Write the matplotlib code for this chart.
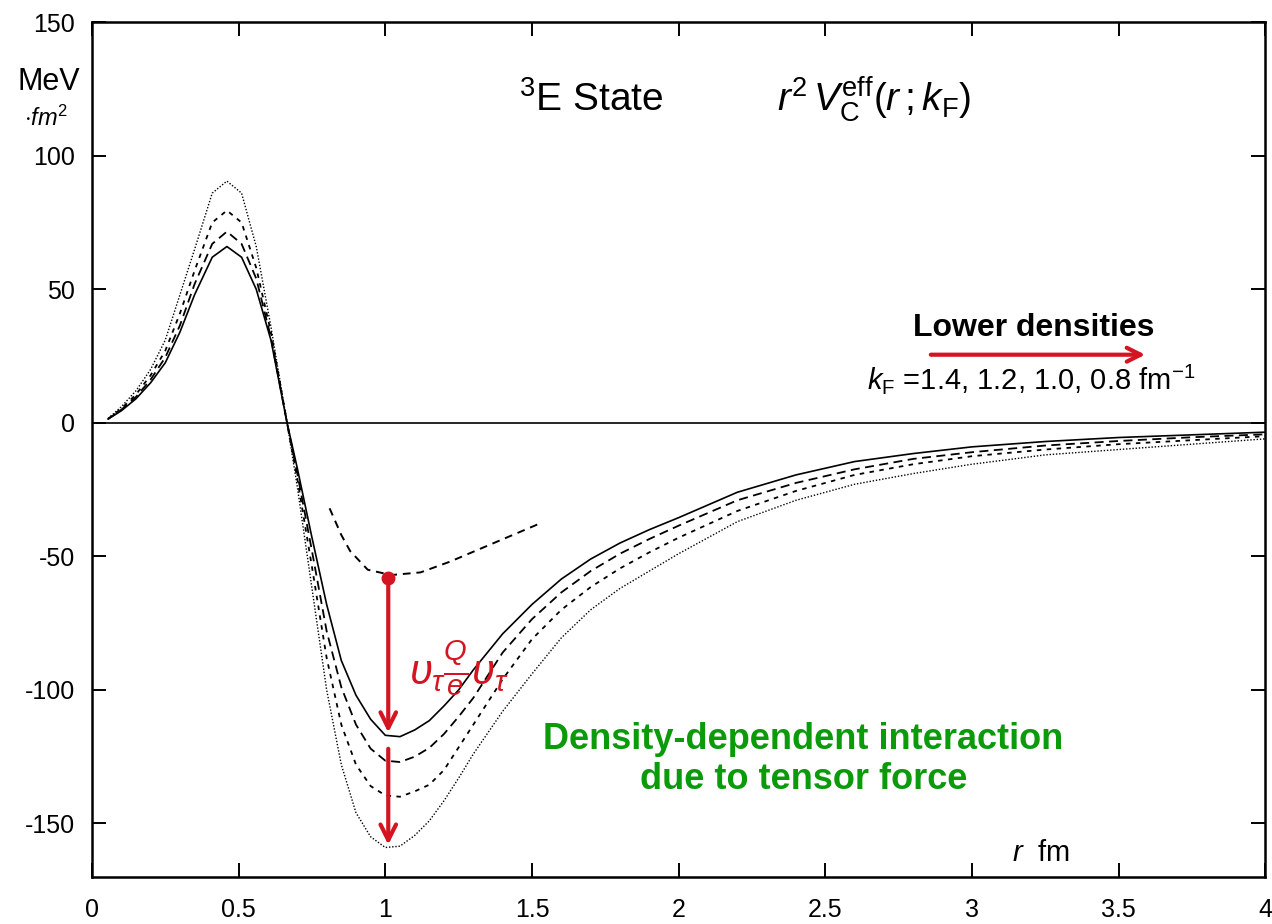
import matplotlib
matplotlib.use("Agg")
import matplotlib.pyplot as plt

plt.rcParams['font.family'] = ['Liberation Sans', 'DejaVu Sans']
plt.rcParams['mathtext.fontset'] = 'custom'
plt.rcParams['mathtext.rm'] = 'Liberation Sans'
plt.rcParams['mathtext.it'] = 'Liberation Sans:italic'
plt.rcParams['mathtext.bf'] = 'Liberation Sans:bold'
plt.rcParams['axes.unicode_minus'] = False

# r grid (fm) and r^2 V_C^eff (MeV fm^2) for each Fermi momentum
r = [0.055, 0.1, 0.15, 0.2, 0.25, 0.3, 0.35, 0.41, 0.46, 0.51, 0.56, 0.61,
     0.665, 0.7, 0.75, 0.8, 0.85, 0.9, 0.95, 1.0, 1.05, 1.1, 1.15, 1.2,
     1.25, 1.3, 1.4, 1.5, 1.6, 1.7, 1.8, 1.9, 2.0, 2.2, 2.4, 2.6, 2.8,
     3.0, 3.25, 3.5, 3.75, 4.0]
v_kf14 = [1.4, 4.5, 9, 15, 22.5, 34, 48, 62, 66, 62, 50, 31,
          0, -17, -43, -68, -89, -102, -111, -117, -117.5, -115, -111.5, -106,
          -100, -92.5, -79, -68, -58.5, -51, -45, -40, -35.5, -26, -19.5, -14.5, -11.5,
          -9, -7, -5.5, -4.5, -3.5]
v_kf12 = [1.45, 4.9, 9.7, 16.2, 24.5, 36.5, 52, 67, 71.6, 67, 54, 32,
          0, -19, -48, -78, -99, -113, -122, -126.5, -127, -125, -121.7, -116.5,
          -110, -103, -86, -73.5, -63.5, -55.5, -49, -43.5, -38.5, -29, -22.5, -17.4, -13.5,
          -11, -8.5, -6.8, -5.4, -4.3]
v_kf10 = [1.5, 5.3, 10.6, 17.8, 27, 41, 57, 75, 79.5, 75, 58, 34,
          0, -21, -54, -88, -113, -128, -136, -139.5, -140, -138, -135.5, -130,
          -121.5, -113, -96, -81, -70, -61.5, -54.5, -48.5, -43, -33, -25.5, -19.5, -15.5,
          -12.5, -10, -8, -6.5, -5]
v_kf08 = [1.6, 6, 12, 20, 31, 48, 65, 86, 90.5, 86, 66, 36,
          0, -24, -62, -100, -128, -146, -155, -159, -158.5, -154.5, -149, -141.5,
          -133, -124, -108, -94, -80.5, -70, -62, -55.5, -49, -37, -29, -23, -19,
          -15.5, -12, -10, -8, -6]

# hand-drawn guide of the central part without the tensor contribution
r_central = [0.81, 0.85, 0.88, 0.94, 1.02, 1.12, 1.22, 1.37, 1.52]
v_central = [-32, -42, -48, -55, -57, -56, -52, -45, -38]
r_arrow = 1.01
v_dot = -58
v_arrow_stops = [-117, -159]

x_ticks = [0, 0.5, 1, 1.5, 2, 2.5, 3, 3.5, 4]
x_ticklabels = ['0', '0.5', '1', '1.5', '2', '2.5', '3', '3.5', '4']
y_ticks = [-150, -100, -50, 0, 50, 100, 150]

red = '#d41420'
green = '#0a9a0a'

fig = plt.figure(figsize=(12.72, 9.24), dpi=100)
ax = fig.add_axes([0.0723, 0.051, 0.9225, 0.925])

ax.axhline(0, color='black', lw=1.2)
ax.plot(r, v_kf14, color='black', lw=1.2, ls='-')
ax.plot(r, v_kf12, color='black', lw=1.3, ls=(0, (5, 3)))
ax.plot(r, v_kf10, color='black', lw=1.3, ls=(0, (2.5, 3)))
ax.plot(r, v_kf08, color='black', lw=1.0, ls=(0, (1, 1.3)))

ax.plot(r_central, v_central, color='black', lw=1.4, ls=(0, (4, 3)))

# red arrows from the central minimum down to the curves
ax.plot([r_arrow], [v_dot], 'o', color=red, ms=9)
ax.annotate('', xy=(r_arrow, v_arrow_stops[0]), xytext=(r_arrow, v_dot),
            arrowprops=dict(arrowstyle='->', color=red, lw=3,
                            mutation_scale=28))
ax.annotate('', xy=(r_arrow, v_arrow_stops[1]), xytext=(r_arrow, v_arrow_stops[0] - 4),
            arrowprops=dict(arrowstyle='->', color=red, lw=3,
                            mutation_scale=28))
ax.text(1.25, -92, r'$\upsilon_\tau\frac{Q}{e}\upsilon_\tau$', color=red,
        fontsize=30, ha='center', va='center')

ax.text(1.70, 121, r'$^3$E State', fontsize=28, ha='center', va='center')
ax.text(2.665, 121, r'$r^2\,V_{\rm C}^{\rm eff}(r\,;k_{\rm F})$', fontsize=28,
        ha='center', va='center')

ax.text(3.21, 35.5, 'Lower densities', fontsize=23, fontweight='bold',
        ha='center', va='center')
ax.annotate('', xy=(3.60, 25.5), xytext=(2.85, 25.5),
            arrowprops=dict(arrowstyle='->', color=red, lw=3,
                            mutation_scale=25))
ax.text(3.20, 16.5, r'$k_{\rm F}$ =1.4, 1.2, 1.0, 0.8 fm$^{-1}$', fontsize=21,
        ha='center', va='center')

ax.text(2.425, -126, 'Density-dependent interaction\ndue to tensor force',
        color=green, fontsize=26, fontweight='bold', ha='center', va='center',
        linespacing=1.2)

ax.text(3.235, -161, r'$r$  fm', fontsize=21, ha='center', va='center')

fig.text(0.038, 0.911, 'MeV', fontsize=22, ha='center', va='center')
fig.text(0.036, 0.872, r'$\cdot fm^2$', fontsize=17, ha='center', va='center')

ax.set_xlim(0, 4)
ax.set_ylim(-170, 150)
ax.set_xticks(x_ticks)
ax.set_xticklabels(x_ticklabels)
ax.set_yticks(y_ticks)
ax.tick_params(direction='in', length=10, width=1.4, top=True, right=True,
               labelsize=18)
ax.tick_params(axis='x', pad=15)
ax.tick_params(axis='y', pad=12)
for s in ax.spines.values():
    s.set_linewidth(1.8)

fig.savefig('out.png', dpi=100)
